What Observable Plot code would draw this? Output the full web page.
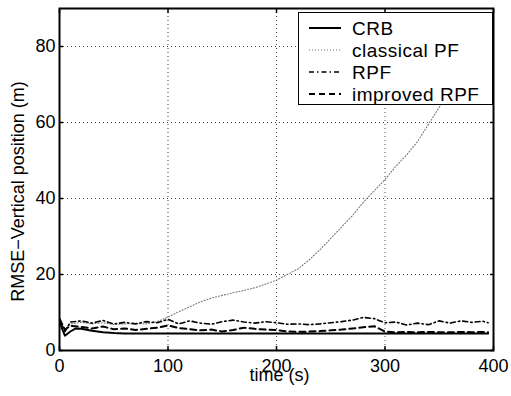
<!DOCTYPE html>
<html>
<head>
<meta charset="utf-8">
<script src="https://cdn.jsdelivr.net/npm/d3@7"></script>
<script src="https://cdn.jsdelivr.net/npm/@observablehq/plot@0.6"></script>
<style>
  body { margin: 0; background: #fff; font-family: "Liberation Sans", Arial, sans-serif; }
  #wrap { position: relative; width: 511px; height: 396px; }
  #legend { position: absolute; left: 298px; top: 12px; width: 195px; height: 93px; background: #fff; border: 1.3px solid #000; box-sizing: border-box; }
  .row { position: absolute; left: 0; height: 19px; display: flex; align-items: center; font-size: 19px; letter-spacing: 0.5px; line-height: 19px; white-space: nowrap; }
  .row svg { margin-left: 10px; margin-right: 11px; }
</style>
</head>
<body>
<div id="wrap">
  <div id="chart"></div>
  <div id="legend"></div>
</div>
<script>
// time axis (s)
const timeCRB = [0, 2, 5, 10, 15, 20, 30, 40, 50, 60, 80, 100, 150, 200, 250, 300, 350, 395];
const crb     = [8.3, 6.0, 3.9, 5.0, 5.8, 5.7, 5.2, 4.8, 4.6, 4.5, 4.5, 4.5, 4.5, 4.5, 4.5, 4.5, 4.5, 4.5];

const timeSeries = [0, 5, 10, 20, 30, 40, 50, 60, 70, 80, 90, 100, 110, 120, 130, 140, 150, 160, 170, 180, 190,
  200, 210, 220, 230, 240, 250, 260, 270, 280, 290, 300, 310, 320, 330, 340, 350, 360, 370, 380, 390, 395];

const classicalPF = [8.3, 5.0, 7.0, 7.4, 7.0, 7.3, 6.8, 7.0, 7.1, 7.0, 7.6, 8.8, 10.2, 11.5, 12.8, 13.8, 14.5, 15.2, 15.8, 16.5, 17.5,
  18.5, 20.0, 21.5, 23.8, 26.5, 29.5, 32.5, 35.5, 39.0, 42.0, 45.0, 48.5, 51.5, 55.0, 59.5, 64.0, 68.5, 73.0, 78.0, 83.0, 86.0];

const rpf = [8.3, 5.0, 7.5, 7.8, 7.2, 7.9, 7.0, 7.4, 7.0, 7.6, 7.3, 8.2, 7.0, 7.8, 7.2, 6.9, 7.6, 8.0, 7.5, 7.2, 7.6,
  7.3, 6.9, 7.0, 6.8, 7.0, 7.3, 7.6, 8.0, 8.7, 8.4, 7.3, 7.5, 6.7, 7.2, 6.8, 7.8, 7.2, 7.8, 7.4, 7.7, 7.3];

const improvedRPF = [8.3, 5.5, 6.5, 6.2, 5.8, 6.3, 5.6, 5.8, 5.4, 5.7, 6.0, 6.6, 5.9, 5.6, 5.3, 5.5, 5.0, 5.4, 6.0, 5.7, 5.5,
  5.4, 5.0, 4.9, 5.0, 5.1, 5.3, 5.5, 5.8, 6.1, 6.4, 5.0, 4.8, 4.9, 4.8, 4.9, 4.8, 4.8, 4.9, 4.8, 4.9, 4.8];

const xTicks = [0, 100, 200, 300, 400];
const yTicks = [0, 20, 40, 60, 80];
const seriesNames = ["CRB", "classical PF", "RPF", "improved RPF"];

const crbRows = timeCRB.map((t, i) => ({t, v: crb[i]}));
const mk = arr => timeSeries.map((t, i) => ({t, v: arr[i]}));

const styles = {
  "CRB": {stroke: "#000", strokeWidth: 2, strokeDasharray: null},
  "classical PF": {stroke: "#777", strokeWidth: 1.1, strokeDasharray: "1,2"},
  "RPF": {stroke: "#000", strokeWidth: 1.6, strokeDasharray: "5,3,1.5,3"},
  "improved RPF": {stroke: "#000", strokeWidth: 2, strokeDasharray: "6,4"}
};

const font = "Liberation Sans, Arial, sans-serif";

const chart = Plot.plot({
  width: 511,
  height: 396,
  marginLeft: 59,
  marginRight: 18,
  marginTop: 8,
  marginBottom: 46,
  style: {fontFamily: font, fontSize: "18px", background: "#fff", color: "#000"},
  x: {domain: [0, 400]},
  y: {domain: [0, 90]},
  marks: [
    Plot.gridX(xTicks.slice(1, -1), {stroke: "#444", strokeOpacity: 1, strokeDasharray: "1,3", strokeWidth: 1}),
    Plot.gridY(yTicks.slice(1), {stroke: "#444", strokeOpacity: 1, strokeDasharray: "1,3", strokeWidth: 1}),
    Plot.line(mk(classicalPF), {x: "t", y: "v", ...styles["classical PF"], clip: true}),
    Plot.line(mk(rpf), {x: "t", y: "v", ...styles["RPF"], clip: true}),
    Plot.line(mk(improvedRPF), {x: "t", y: "v", ...styles["improved RPF"], clip: true}),
    Plot.line(crbRows, {x: "t", y: "v", ...styles["CRB"], clip: true}),
    Plot.axisX(xTicks, {anchor: "bottom", tickSize: 0, tickPadding: 9, label: null, fontSize: 18}),
    Plot.axisY(yTicks, {anchor: "left", tickSize: 0, tickPadding: 4, label: null, fontSize: 18}),
    Plot.axisX(xTicks, {anchor: "bottom", tickSize: -4, text: null, label: null, strokeWidth: 1.5}),
    Plot.axisX(xTicks, {anchor: "top", tickSize: -4, text: null, label: null, strokeWidth: 1.5}),
    Plot.axisY(yTicks, {anchor: "left", tickSize: -4, text: null, label: null, strokeWidth: 1.5}),
    Plot.axisY(yTicks, {anchor: "right", tickSize: -4, text: null, label: null, strokeWidth: 1.5}),
    Plot.frame({stroke: "#000", strokeWidth: 2}),
    Plot.text(["time (s)"], {frameAnchor: "bottom", lineAnchor: "middle", textAnchor: "middle", dy: 25, dx: 3, fontSize: 18}),
    Plot.text(["RMSE\u2212Vertical position (m)"], {frameAnchor: "left", textAnchor: "middle", lineAnchor: "middle", dx: -41, dy: 12, rotate: -90, fontSize: 18})
  ]
});
document.getElementById("chart").appendChild(chart);

// legend
const legend = document.getElementById("legend");
const rowTops = [5.5, 27.5, 49.5, 71.5];
seriesNames.forEach((name, i) => {
  const s = styles[name];
  const row = document.createElement("div");
  row.className = "row";
  row.style.top = rowTops[i] + "px";
  row.innerHTML = `<svg width="32" height="10"><line x1="0" x2="32" y1="5" y2="5" stroke="${s.stroke}" stroke-width="${s.strokeWidth}" ${s.strokeDasharray ? `stroke-dasharray="${s.strokeDasharray}"` : ""}/></svg><span>${name}</span>`;
  legend.appendChild(row);
});
</script>
</body>
</html>
